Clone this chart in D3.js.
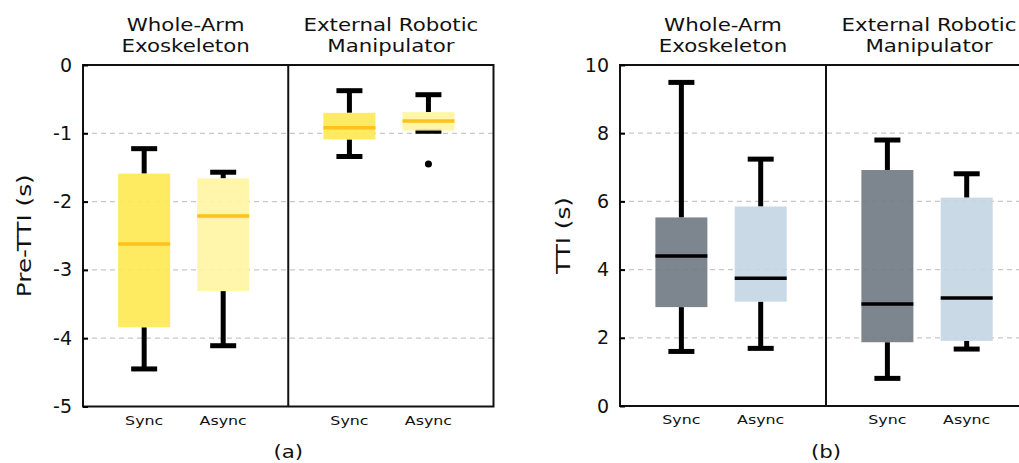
<!DOCTYPE html>
<html><head><meta charset="utf-8">
<script src="https://cdn.jsdelivr.net/npm/d3@7"></script>
<style>body{margin:0;background:#fff}svg{display:block}text{font-family:"DejaVu Sans",Verdana,sans-serif;fill:#111}</style>
</head><body>
<svg id="c" width="1019" height="463"></svg>
<script>
const categories = ["Sync", "Async"];
const groups = [["Whole-Arm", "Exoskeleton"], ["External Robotic", "Manipulator"]];

// order: WA-Sync, WA-Async, ERM-Sync, ERM-Async
const preTTI_low  = [-4.45, -4.11, -1.34, -0.97];
const preTTI_q1   = [-3.84, -3.31, -1.09, -0.96];
const preTTI_med  = [-2.62, -2.21, -0.92, -0.82];
const preTTI_q3   = [-1.59, -1.66, -0.70, -0.69];
const preTTI_high = [-1.225, -1.57, -0.376, -0.435];
const preTTI_out  = [[], [], [], [-1.45]];
const preTTI_ticks = [0, -1, -2, -3, -4, -5];

const tti_low  = [1.60, 1.69, 0.81, 1.67];
const tti_q1   = [2.90, 3.06, 1.87, 1.91];
const tti_med  = [4.40, 3.75, 2.99, 3.17];
const tti_q3   = [5.53, 5.85, 6.92, 6.11];
const tti_high = [9.49, 7.24, 7.80, 6.81];
const tti_out  = [[], [], [], []];
const tti_ticks = [0, 2, 4, 6, 8, 10];

const svg = d3.select("#c");

function wideText(parent, x, y, str, size, rot, sx) {
  return parent.append("text")
    .attr("transform", `translate(${x},${y})${rot ? " rotate(" + rot + ")" : ""} scale(${sx || 1.22},1)`)
    .attr("text-anchor", "middle").attr("font-size", size).text(str);
}

function panel(opt) {
  const {x0, width, top, bottom, domain, ticks, low, q1, med, q3, high, out,
         fills, medColor, ylabel, ylabelX, tag} = opt;
  const g = svg.append("g");
  const y = d3.scaleLinear().domain(domain).range([bottom, top]);
  const xg = d3.scaleBand().domain(d3.range(groups.length)).range([x0, x0 + width]);
  const bw = xg.bandwidth();
  const xi = d3.scalePoint().domain(categories).range([bw * 0.298, bw * 0.683]);
  const boxW = 52, capW = 26;

  g.append("g").selectAll("line").data(ticks.filter(t => t !== domain[0] && t !== domain[1]))
    .join("line")
    .attr("x1", x0).attr("x2", x0 + width)
    .attr("y1", d => y(d)).attr("y2", d => y(d))
    .attr("stroke", "#c8c8c8").attr("stroke-width", 1.2).attr("stroke-dasharray", "5,4");

  const items = [];
  groups.forEach((gr, gi) => categories.forEach((c, ci) => {
    const k = gi * categories.length + ci;
    items.push({k, gi, ci, cx: xg(gi) + xi(c)});
  }));

  const bx = g.append("g");
  items.forEach(it => {
    const k = it.k;
    bx.append("line").attr("x1", it.cx).attr("x2", it.cx)
      .attr("y1", y(q3[k])).attr("y2", y(high[k])).attr("stroke", "#000").attr("stroke-width", 5);
    bx.append("line").attr("x1", it.cx).attr("x2", it.cx)
      .attr("y1", y(q1[k])).attr("y2", y(low[k])).attr("stroke", "#000").attr("stroke-width", 5);
    [high[k], low[k]].forEach(v => bx.append("line")
      .attr("x1", it.cx - capW / 2).attr("x2", it.cx + capW / 2)
      .attr("y1", y(v)).attr("y2", y(v)).attr("stroke", "#000").attr("stroke-width", 5));
    bx.append("rect").attr("x", it.cx - boxW / 2).attr("width", boxW)
      .attr("y", y(q3[k])).attr("height", y(q1[k]) - y(q3[k]))
      .attr("fill", fills[it.ci]).attr("fill-opacity", 0.93);
    bx.append("line").attr("x1", it.cx - boxW / 2).attr("x2", it.cx + boxW / 2)
      .attr("y1", y(med[k])).attr("y2", y(med[k])).attr("stroke", medColor).attr("stroke-width", 3.5);
    out[k].forEach(v => bx.append("circle").attr("cx", it.cx).attr("cy", y(v)).attr("r", 3.5).attr("fill", "#000"));
    wideText(g, it.cx, bottom + 18, categories[it.ci], 13);
  });

  g.append("rect").attr("x", x0).attr("y", top).attr("width", width).attr("height", bottom - top)
    .attr("fill", "none").attr("stroke", "#111").attr("stroke-width", 2);
  g.append("line").attr("x1", xg(1)).attr("x2", xg(1)).attr("y1", top).attr("y2", bottom)
    .attr("stroke", "#111").attr("stroke-width", 2);

  const ax = g.append("g").attr("transform", `translate(${x0},0)`)
    .call(d3.axisRight(y).tickValues(ticks).tickSize(5).tickFormat(d3.format("d")));
  ax.select(".domain").remove();
  ax.selectAll(".tick line").attr("stroke", "#000").attr("stroke-width", 2);
  ax.selectAll(".tick text").attr("x", -11).attr("text-anchor", "end")
    .attr("font-size", 19).attr("font-family", "DejaVu Sans").attr("fill", "#111")
    .text(d => d3.format("d")(d).replace("\u2212", "-"));

  groups.forEach((gr, gi) => {
    gr.forEach((line, li) => wideText(g, xg(gi) + bw / 2, 30.5 + li * 21, line, 17.5));
  });

  wideText(g, ylabelX, (top + bottom) / 2, ylabel, 19, -90, 1.3);
  wideText(g, x0 + width / 2, 458, tag, 17.5);
}

panel({x0: 83, width: 410.5, top: 65, bottom: 406.5, domain: [-5, 0], ticks: preTTI_ticks,
  low: preTTI_low, q1: preTTI_q1, med: preTTI_med, q3: preTTI_q3, high: preTTI_high, out: preTTI_out,
  fills: ["#ffe955", "#fff5a5"], medColor: "#ffc21c", ylabel: "Pre-TTI (s)", ylabelX: 31, tag: "(a)"});
panel({x0: 620, width: 412, top: 65, bottom: 406, domain: [0, 10], ticks: tti_ticks,
  low: tti_low, q1: tti_q1, med: tti_med, q3: tti_q3, high: tti_high, out: tti_out,
  fills: ["#737d86", "#c5d6e3"], medColor: "#000", ylabel: "TTI (s)", ylabelX: 570, tag: "(b)"});
</script>
</body></html>
